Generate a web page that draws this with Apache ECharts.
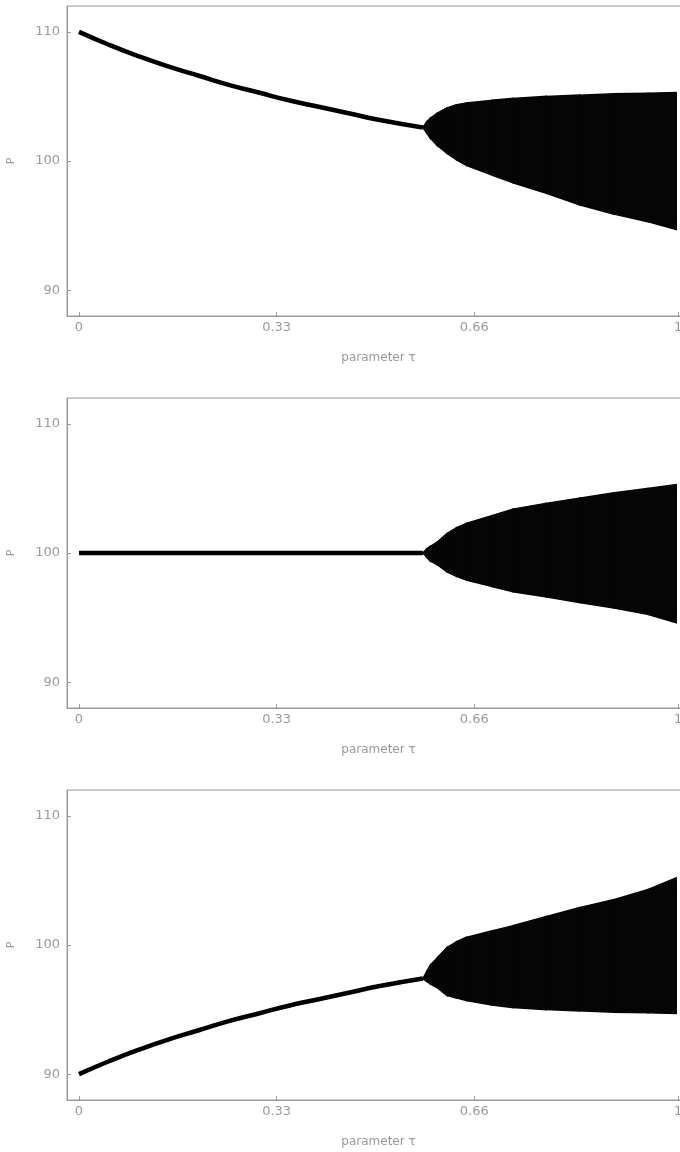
<!DOCTYPE html>
<html>
<head>
<meta charset="utf-8">
<script src="https://cdn.jsdelivr.net/npm/echarts@6/dist/echarts.min.js"></script>
<style>
  html, body { margin: 0; padding: 0; background: #fff; }
  #main { width: 680px; height: 1152px; }
</style>
</head>
<body>
<div id="main"></div>
<script>
// tau values for the single (stable) branch
var tauStem = [0, 0.05, 0.1, 0.15, 0.2, 0.25, 0.3, 0.35, 0.4, 0.45, 0.5, 0.574];
var stemTop = [110, 109.0, 108.1, 107.3, 106.6, 105.9, 105.3, 104.7, 104.2, 103.7, 103.2, 102.6];
var stemMid = [100, 100, 100, 100, 100, 100, 100, 100, 100, 100, 100, 100];
var stemBot = [90, 91.0, 91.9, 92.7, 93.4, 94.1, 94.7, 95.3, 95.8, 96.3, 96.8, 97.4];

// tau values for the oscillating band (envelopes)
var tauBand = [0.574, 0.58, 0.586, 0.598, 0.614, 0.63, 0.647, 0.69, 0.725, 0.78, 0.836, 0.892, 0.95, 0.997];
var upperTop = [102.6, 103.0, 103.3, 103.7, 104.1, 104.35, 104.5, 104.7, 104.85, 105.0, 105.1, 105.2, 105.25, 105.3];
var lowerTop = [102.6, 102.2, 101.8, 101.2, 100.6, 100.1, 99.65, 98.9, 98.3, 97.5, 96.6, 95.9, 95.3, 94.7];
var upperMid = [100, 100.3, 100.5, 100.85, 101.5, 101.95, 102.3, 102.9, 103.4, 103.85, 104.25, 104.65, 105.0, 105.3];
var lowerMid = [100, 99.7, 99.4, 99.1, 98.55, 98.2, 97.9, 97.4, 97.0, 96.6, 96.15, 95.75, 95.25, 94.6];
var upperBot = [97.4, 97.9, 98.4, 99.0, 99.8, 100.25, 100.6, 101.1, 101.5, 102.2, 102.9, 103.5, 104.3, 105.2];
var lowerBot = [97.4, 97.2, 97.0, 96.7, 96.1, 95.9, 95.7, 95.35, 95.15, 95.0, 94.9, 94.8, 94.75, 94.7];

var xTicks = [0, 0.33, 0.66, 1];
var yTicks = [90, 100, 110];

var gray = '#9a9a9a';
var font = 'DejaVu Sans, Verdana, sans-serif';
var panelTops = [6, 398, 790];

function zip(xs, ys) {
  return xs.map(function (x, i) { return [x, ys[i]]; });
}
function zip3(xs, lo, up) {
  return xs.map(function (x, i) { return [x, lo[i], up[i]]; });
}

var grids = [], xAxes = [], yAxes = [], series = [];
var stems = [stemTop, stemMid, stemBot];
var uppers = [upperTop, upperMid, upperBot];
var lowers = [lowerTop, lowerMid, lowerBot];

panelTops.forEach(function (top, k) {
  // right edge sits past the canvas, as in the cropped original
  grids.push({
    left: 67, width: 623, top: top, height: 310,
    outerBoundsMode: 'none', containLabel: false,
    show: true, borderColor: gray, borderWidth: 1, backgroundColor: '#fff'
  });
  xAxes.push({
    type: 'value', gridIndex: k, min: -0.02, max: 1.02,
    name: 'parameter τ', nameLocation: 'middle', nameGap: 36,
    nameTextStyle: { color: gray, fontSize: 12, fontFamily: font },
    axisLine: { show: true, onZero: false, lineStyle: { color: gray, width: 1 } },
    axisTick: { show: true, inside: true, length: 4, customValues: xTicks, lineStyle: { color: gray } },
    axisLabel: {
      color: gray, fontSize: 13, margin: 5, customValues: xTicks, fontFamily: font,
      formatter: function (v) { return String(v); }
    },
    splitLine: { show: false }
  });
  yAxes.push({
    type: 'value', gridIndex: k, min: 88, max: 112,
    name: 'P', nameLocation: 'middle', nameGap: 50, nameRotate: 90,
    nameTextStyle: { color: gray, fontSize: 11, fontFamily: font },
    axisLine: { show: true, onZero: false, lineStyle: { color: gray, width: 1 } },
    axisTick: { show: true, inside: true, length: 4, customValues: yTicks, lineStyle: { color: gray } },
    axisLabel: { color: gray, fontSize: 13, margin: 7, customValues: yTicks, fontFamily: font },
    splitLine: { show: false }
  });

  series.push({
    type: 'line', xAxisIndex: k, yAxisIndex: k,
    data: zip(tauStem, stems[k]),
    smooth: true, showSymbol: false, silent: true,
    lineStyle: { color: '#000', width: 4.5 }
  });

  series.push({
    type: 'custom', xAxisIndex: k, yAxisIndex: k, silent: true,
    data: zip3(tauBand, lowers[k], uppers[k]),
    encode: { x: 0, y: [1, 2] },
    renderItem: function (params, api) {
      var i = params.dataIndexInside;
      if (i >= params.dataInsideLength - 1) return null;
      var pts = [
        api.coord([api.value(0, i), api.value(1, i)]),
        api.coord([api.value(0, i), api.value(2, i)]),
        api.coord([api.value(0, i + 1), api.value(2, i + 1)]),
        api.coord([api.value(0, i + 1), api.value(1, i + 1)])
      ];
      return {
        type: 'polygon',
        shape: { points: pts },
        style: { fill: '#050505', stroke: '#050505', lineWidth: 1.5 }
      };
    }
  });
});

var myChart = echarts.init(document.getElementById('main'));
myChart.setOption({
  animation: false,
  backgroundColor: '#fff',
  grid: grids,
  xAxis: xAxes,
  yAxis: yAxes,
  series: series
});
</script>
</body>
</html>
